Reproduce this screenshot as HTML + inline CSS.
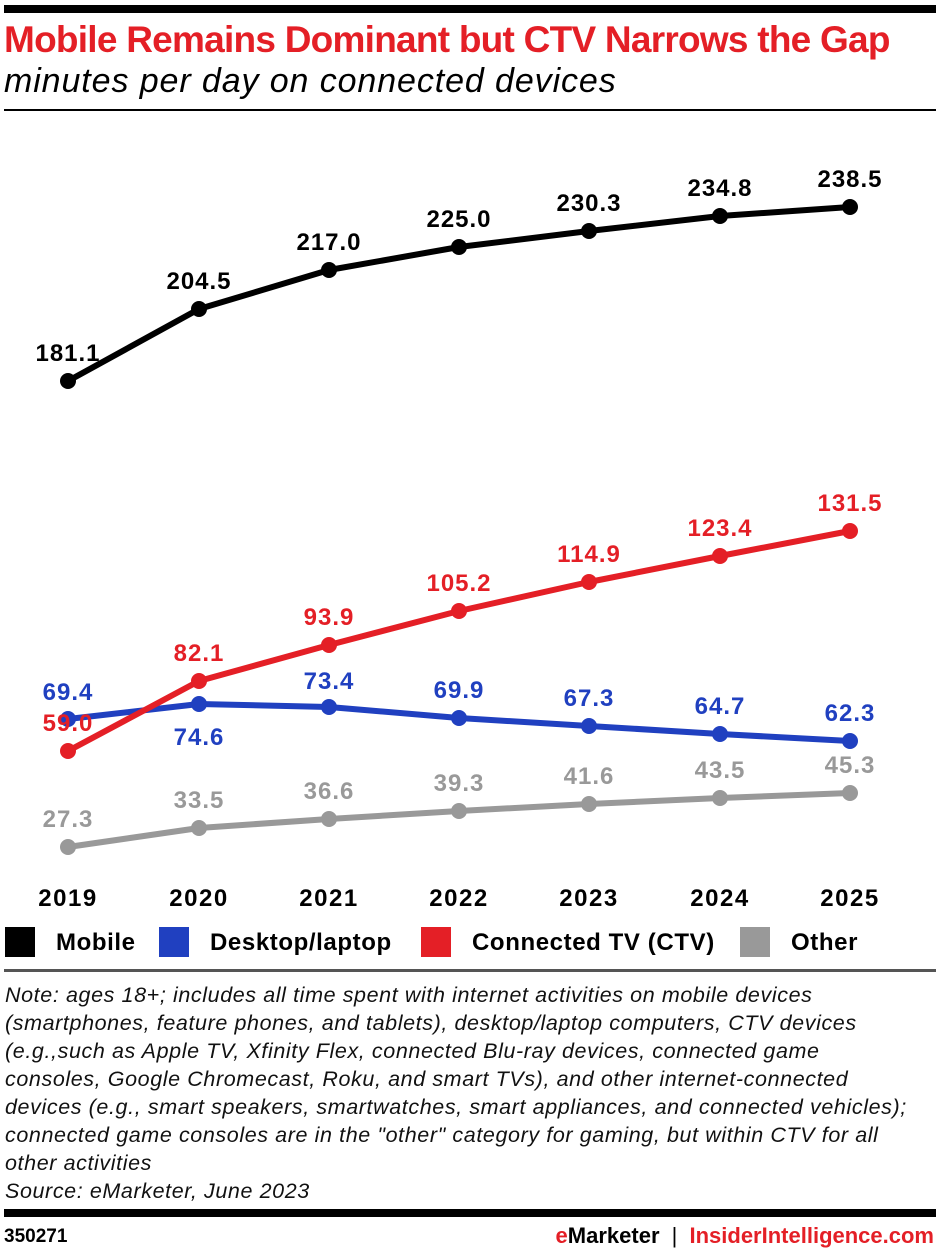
<!DOCTYPE html>
<html><head><meta charset="utf-8"><style>
body{margin:0;width:940px;height:1258px;background:#fff;font-family:"Liberation Sans",sans-serif;position:relative;overflow:hidden}
.a{position:absolute}
</style></head><body>
<div class="a" style="left:4px;top:5px;width:932px;height:8px;background:#000"></div>
<div class="a" style="left:4px;top:19px;font-size:37px;font-weight:bold;color:#e41f26;letter-spacing:-0.75px;white-space:nowrap">Mobile Remains Dominant but CTV Narrows the Gap</div>
<div class="a" style="left:4px;top:62px;font-size:34px;font-style:italic;color:#000;letter-spacing:0.9px;white-space:nowrap">minutes per day on connected devices</div>
<div class="a" style="left:4px;top:109px;width:932px;height:2px;background:#000"></div>
<svg class="a" style="left:0;top:0" width="940" height="960" font-family="Liberation Sans" font-weight="bold" font-size="24" letter-spacing="1" text-anchor="middle">
<g stroke-width="6" fill="none" stroke-linejoin="round">
<polyline stroke="#000" points="68,381 199,309 329,270 459,247 589,231 720,216 850,207"/>
<polyline stroke="#999" points="68,847 199,828 329,819 459,811 589,804 720,798 850,793"/>
<polyline stroke="#2040c0" points="68,719 199,704 329,707 459,718 589,726 720,734 850,741"/>
<polyline stroke="#e41f26" points="68,751 199,681 329,645 459,611 589,582 720,556 850,531"/>
</g>
<g fill="#000"><circle cx="68" cy="381" r="8"/><circle cx="199" cy="309" r="8"/><circle cx="329" cy="270" r="8"/><circle cx="459" cy="247" r="8"/><circle cx="589" cy="231" r="8"/><circle cx="720" cy="216" r="8"/><circle cx="850" cy="207" r="8"/>
<text x="68" y="361">181.1</text><text x="199" y="289">204.5</text><text x="329" y="250">217.0</text><text x="459" y="227">225.0</text><text x="589" y="211">230.3</text><text x="720" y="196">234.8</text><text x="850" y="187">238.5</text></g>
<g fill="#999"><circle cx="68" cy="847" r="8"/><circle cx="199" cy="828" r="8"/><circle cx="329" cy="819" r="8"/><circle cx="459" cy="811" r="8"/><circle cx="589" cy="804" r="8"/><circle cx="720" cy="798" r="8"/><circle cx="850" cy="793" r="8"/>
<text x="68" y="827">27.3</text><text x="199" y="808">33.5</text><text x="329" y="799">36.6</text><text x="459" y="791">39.3</text><text x="589" y="784">41.6</text><text x="720" y="778">43.5</text><text x="850" y="773">45.3</text></g>
<g fill="#2040c0"><circle cx="68" cy="719" r="8"/><circle cx="199" cy="704" r="8"/><circle cx="329" cy="707" r="8"/><circle cx="459" cy="718" r="8"/><circle cx="589" cy="726" r="8"/><circle cx="720" cy="734" r="8"/><circle cx="850" cy="741" r="8"/>
<text x="68" y="700">69.4</text><text x="199" y="745">74.6</text><text x="329" y="689">73.4</text><text x="459" y="698">69.9</text><text x="589" y="706">67.3</text><text x="720" y="714">64.7</text><text x="850" y="721">62.3</text></g>
<g fill="#e41f26"><circle cx="68" cy="751" r="8"/><circle cx="199" cy="681" r="8"/><circle cx="329" cy="645" r="8"/><circle cx="459" cy="611" r="8"/><circle cx="589" cy="582" r="8"/><circle cx="720" cy="556" r="8"/><circle cx="850" cy="531" r="8"/>
<text x="68" y="731">59.0</text><text x="199" y="661">82.1</text><text x="329" y="625">93.9</text><text x="459" y="591">105.2</text><text x="589" y="562">114.9</text><text x="720" y="536">123.4</text><text x="850" y="511">131.5</text></g>
<g fill="#000" letter-spacing="1.5"><text x="68" y="906">2019</text><text x="199" y="906">2020</text><text x="329" y="906">2021</text><text x="459" y="906">2022</text><text x="589" y="906">2023</text><text x="720" y="906">2024</text><text x="850" y="906">2025</text></g>
<g text-anchor="start" fill="#000" letter-spacing="0.6">
<rect x="5" y="927" width="30" height="30" fill="#000"/><text x="56" y="950">Mobile</text>
<rect x="159" y="927" width="30" height="30" fill="#2040c0"/><text x="210" y="950">Desktop/laptop</text>
<rect x="421" y="927" width="30" height="30" fill="#e41f26"/><text x="472" y="950">Connected TV (CTV)</text>
<rect x="740" y="927" width="30" height="30" fill="#999"/><text x="791" y="950">Other</text>
</g>
</svg>
<div class="a" style="left:4px;top:969px;width:932px;height:3px;background:#555"></div>
<div class="a" style="left:5px;top:981px;width:935px;font-size:21.5px;letter-spacing:0.6px;font-style:italic;line-height:28px;color:#111;white-space:nowrap">Note: ages 18+; includes all time spent with internet activities on mobile devices<br>(smartphones, feature phones, and tablets), desktop/laptop computers, CTV devices<br>(e.g.,such as Apple TV, Xfinity Flex, connected Blu-ray devices, connected game<br>consoles, Google Chromecast, Roku, and smart TVs), and other internet-connected<br>devices (e.g., smart speakers, smartwatches, smart appliances, and connected vehicles);<br>connected game consoles are in the "other" category for gaming, but within CTV for all<br>other activities<br>Source: eMarketer, June 2023</div>
<div class="a" style="left:4px;top:1209px;width:932px;height:8px;background:#000"></div>
<div class="a" style="left:4px;top:1226px;font-size:19px;font-weight:bold">350271</div>
<div class="a" style="right:6px;top:1223px;font-size:22px;font-weight:bold;white-space:nowrap"><span style="color:#e41f26">e</span>Marketer <span style="font-weight:normal;margin:0 6px">|</span> <span style="color:#e41f26">InsiderIntelligence.com</span></div>
</body></html>
